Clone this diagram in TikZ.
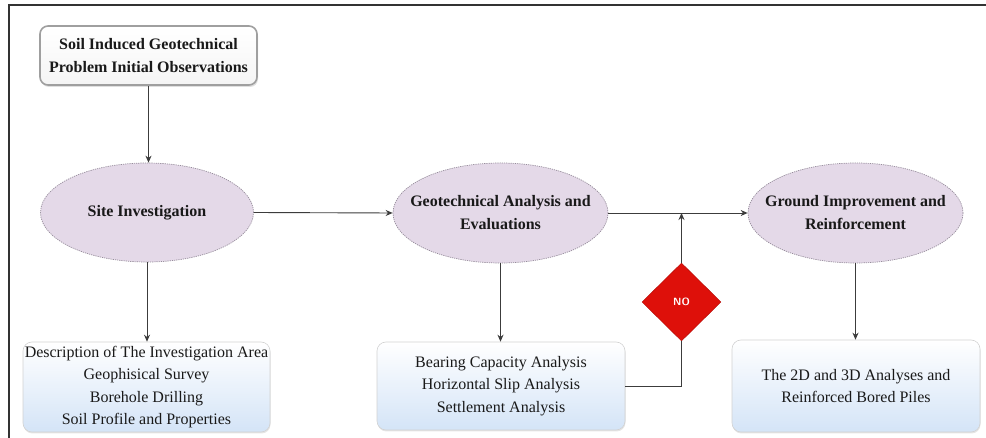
\documentclass[tikz,border=0pt]{standalone}
\usepackage{fontspec}
\setmainfont{Liberation Serif}
\usetikzlibrary{shapes.geometric,arrows.meta,shadows,calc}
\definecolor{lav}{RGB}{228,217,232}
\definecolor{lavline}{RGB}{150,140,155}
\definecolor{boxblue}{RGB}{212,228,247}
\definecolor{linegray}{RGB}{60,60,60}
\definecolor{nored}{RGB}{222,16,10}
\tikzset{
  txt/.style={font=\fontsize{16}{22.5}\selectfont, align=center, text=black!90},
  btxt/.style={font=\bfseries\fontsize{16}{23}\selectfont, align=center, text=black!90},
  topbox/.style={btxt, rectangle, rounded corners=8pt, draw=gray!75, line width=1.6pt,
     top color=white, bottom color=gray!8, minimum width=217pt, minimum height=59pt, inner sep=0pt,
     drop shadow={opacity=0.25, shadow xshift=1pt, shadow yshift=-2pt}},
  ell/.style={ellipse, draw=lavline, dashed, dash pattern=on 1.2pt off 1pt, line width=0.7pt,
     fill=lav, inner sep=0pt},
  elltxt/.style={btxt, inner sep=0pt},
  bluebox/.style={txt, rectangle, rounded corners=9pt, draw=gray!35, line width=0.6pt,
     top color=white, bottom color=boxblue, minimum width=248pt, inner sep=0pt,
     drop shadow={opacity=0.2, shadow xshift=0.5pt, shadow yshift=-1.5pt}},
  nodia/.style={diamond, fill=nored, draw=nored!80!black, line width=0.4pt, inner sep=0pt,
     minimum width=79pt, minimum height=78pt, text=white,
     font=\sffamily\bfseries\fontsize{10.5}{11}\selectfont},
  conn/.style={draw=linegray, line width=0.9pt},
  arr/.style={conn, -{Stealth[length=7pt,width=6pt]}},
}
\begin{document}
\begin{tikzpicture}[x=1pt,y=-1pt]
\useasboundingbox (0,0) rectangle (986,438);
\fill[white] (0,0) rectangle (986,438);
% frame
\draw[black!80, line width=1.3pt] (9,438) -- (9,5) -- (986,5);

\node[topbox] (obs) at (148.5,55.5) {Soil Induced Geotechnical\\Problem Initial Observations};

\node[ell, minimum width=213pt, minimum height=99pt] (site) at (147,212.5) {};
\node[elltxt] (sitetxt) at (site.center) {Site Investigation};
\node[ell, minimum width=215pt, minimum height=100pt] (geo) at (500.5,213) {};
\node[elltxt] (geotxt) at (geo.center) {Geotechnical Analysis and\\Evaluations};
\node[ell, minimum width=215pt, minimum height=100pt] (ground) at (855.5,213) {};
\node[elltxt] (groundtxt) at (ground.center) {Ground Improvement and\\Reinforcement};

\node[bluebox, minimum width=247pt, minimum height=90pt] (b1) at (146.5,387)
  {Description of The Investigation Area\\Geophisical Survey\\Borehole Drilling\\Soil Profile and Properties};
\node[bluebox, minimum height=88pt] (b2) at (501,386)
  {Bearing Capacity Analysis\\Horizontal Slip Analysis\\Settlement Analysis};
\node[bluebox, minimum height=92pt] (b3) at (856,386)
  {The 2D and 3D Analyses and\\Reinforced Bored Piles};

\node[nodia] (no) at (681.5,302) {NO};

\coordinate (j) at (no.north |- geo.east);

\draw[arr] (obs.south) -- (obs.south |- site.north);
\draw[arr] (site.south) -- (site.south |- b1.north);
\draw[arr] (site.east) -- (geo.west);
\draw[arr] (geo.south) -- (geo.south |- b2.north);
\draw[arr] (geo.east) -- (ground.west);
\draw[arr] (ground.south) -- (ground.south |- b3.north);
\draw[conn] (b2.east) -- (b2.east -| no.south) -- (no.south);
\draw[arr] (no.north) -- (j);
\end{tikzpicture}
\end{document}
